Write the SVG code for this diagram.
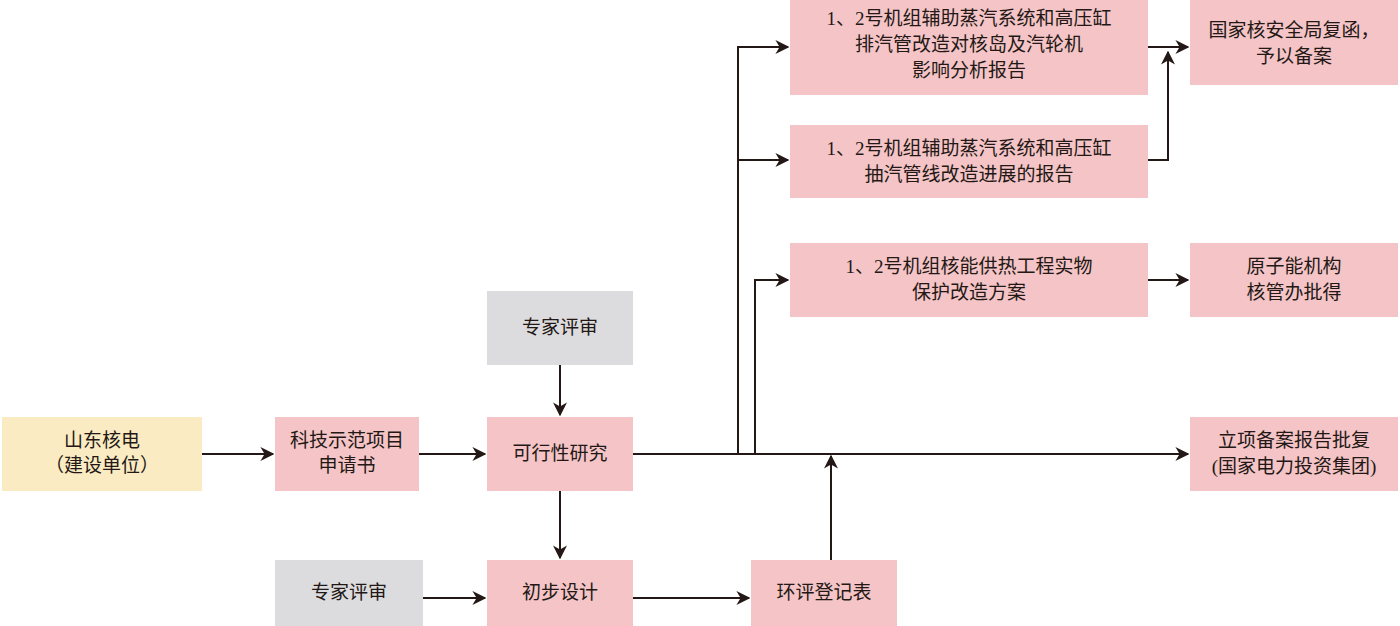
<svg xmlns="http://www.w3.org/2000/svg" width="1400" height="626" viewBox="0 0 1400 626">
<defs>
<style>
.p{fill:#f4c4c6}.g{fill:#dcdcde}.y{fill:#fbebc2}
text{font-family:"Liberation Serif","Noto Sans CJK SC",serif;font-size:19px;fill:#231815;text-anchor:middle}
.c path{fill:none;stroke:#231815;stroke-width:2}
</style>
<marker id="a" viewBox="0 0 10 10" refX="9" refY="5" markerWidth="7" markerHeight="7" orient="auto"><path d="M0,0L10,5L0,10L3,5Z" fill="#231815"/></marker>
</defs>
<rect width="1400" height="626" fill="#fff"/>
<g id="n1"><rect class="y" x="2" y="417" width="200" height="74"/><text x="102" y="447">山东核电</text><text x="102" y="472">（建设单位）</text></g>
<g id="n2"><rect class="p" x="275" y="417" width="144" height="74"/><text x="347" y="447">科技示范项目</text><text x="347" y="472">申请书</text></g>
<g id="n3"><rect class="p" x="487" y="417" width="146" height="74"/><text x="560" y="460">可行性研究</text></g>
<g id="n4"><rect class="g" x="487" y="291" width="146" height="74"/><text x="560" y="334">专家评审</text></g>
<g id="n5"><rect class="p" x="487" y="560" width="146" height="66"/><text x="560" y="599">初步设计</text></g>
<g id="n6"><rect class="g" x="275" y="560" width="148" height="66"/><text x="349" y="599">专家评审</text></g>
<g id="n7"><rect class="p" x="751" y="560" width="146" height="66"/><text x="824" y="599">环评登记表</text></g>
<g id="n8"><rect class="p" x="790" y="0" width="358" height="95"/><text x="969" y="25">1、2号机组辅助蒸汽系统和高压缸</text><text x="969" y="51">排汽管改造对核岛及汽轮机</text><text x="969" y="77">影响分析报告</text></g>
<g id="n9"><rect class="p" x="790" y="125" width="358" height="73"/><text x="969" y="155">1、2号机组辅助蒸汽系统和高压缸</text><text x="969" y="181">抽汽管线改造进展的报告</text></g>
<g id="n10"><rect class="p" x="790" y="243" width="358" height="74"/><text x="969" y="273">1、2号机组核能供热工程实物</text><text x="969" y="299">保护改造方案</text></g>
<g id="n11"><rect class="p" x="1190" y="0" width="208" height="85"/><text x="1294" y="37">国家核安全局复函，</text><text x="1294" y="63">予以备案</text></g>
<g id="n12"><rect class="p" x="1190" y="243" width="208" height="74"/><text x="1294" y="273">原子能机构</text><text x="1294" y="299">核管办批得</text></g>
<g id="n13"><rect class="p" x="1190" y="417" width="208" height="74"/><text x="1294" y="447">立项备案报告批复</text><text x="1294" y="473">(国家电力投资集团)</text></g>
<g class="c">
<path d="M202,454H273" marker-end="url(#a)"/>
<path d="M419,454H485" marker-end="url(#a)"/>
<path d="M560,365V415" marker-end="url(#a)"/>
<path d="M560,491V558" marker-end="url(#a)"/>
<path d="M423,598H485" marker-end="url(#a)"/>
<path d="M633,598H749" marker-end="url(#a)"/>
<path d="M831,560V456" marker-end="url(#a)"/>
<path d="M633,454H1188" marker-end="url(#a)"/>
<path d="M738,454V47H788" marker-end="url(#a)"/>
<path d="M738,160H788" marker-end="url(#a)"/>
<path d="M755,454V280H788" marker-end="url(#a)"/>
<path d="M1148,47H1188" marker-end="url(#a)"/>
<path d="M1148,160H1168V52" marker-end="url(#a)"/>
<path d="M1148,280H1188" marker-end="url(#a)"/>
</g>
</svg>
